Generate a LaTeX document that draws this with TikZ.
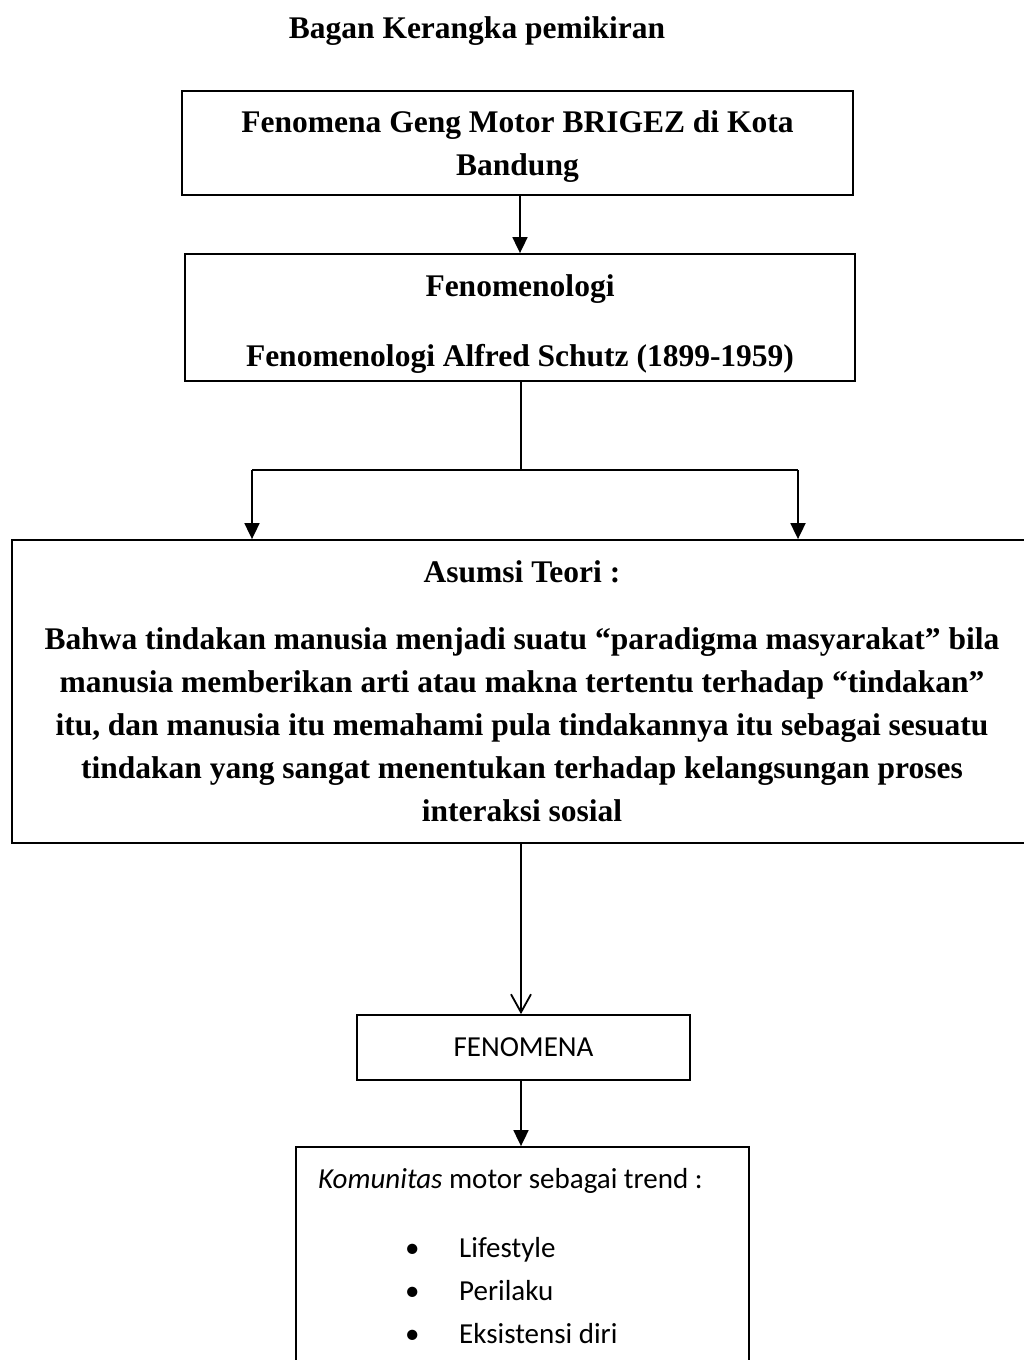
\documentclass[tikz,border=0pt]{standalone}
\usepackage{fontspec}
\setmainfont{Liberation Serif}
\newfontfamily\calibrifont{Carlito}
\usetikzlibrary{arrows.meta}
\tikzset{
  boxstyle/.style={draw=black, line width=1.8pt, inner sep=0pt, align=center},
  serifbold/.style={font=\fontsize{31.5pt}{43pt}\selectfont\bfseries, inner sep=0pt, align=center},
  sanstext/.style={font=\fontsize{29pt}{43pt}\selectfont\calibrifont},
  conn/.style={draw=black, line width=1.8pt},
  tri/.style={conn, -{Triangle[width=15pt,length=16pt]}},
  barb/.style={conn, -{Straight Barb[width=20pt,length=18pt,line width=1.8pt]}},
  plain/.style={inner sep=0pt, anchor=base west}
}
\begin{document}
\begin{tikzpicture}[x=1pt,y=-1pt]
\useasboundingbox (0,0) rectangle (1024,1360);
\clip (0,0) rectangle (1024,1360);
\fill[white] (0,0) rectangle (1024,1360);

\node[serifbold] (title) at (477,31) {Bagan Kerangka pemikiran};

\node[boxstyle, minimum width=671pt, minimum height=104pt] (b1) at (517.5,143) {};
\node[serifbold] (b1t) at ([yshift=-4pt]b1.center)
  {Fenomena Geng Motor BRIGEZ di Kota\\Bandung};

\node[boxstyle, minimum width=670pt, minimum height=127pt] (b2) at (520,317.5) {};
\node[serifbold] (b2t) at ([yshift=-7pt]b2.center)
  {Fenomenologi\\[27pt]Fenomenologi Alfred Schutz (1899-1959)};

\node[boxstyle, minimum width=1020pt, minimum height=303pt] (b3) at (522,691.5) {};
\node[serifbold] (b3t) at (b3.center)
  {Asumsi Teori :\\[24pt]
   Bahwa tindakan manusia menjadi suatu “paradigma masyarakat” bila\\
   manusia memberikan arti atau makna tertentu terhadap “tindakan”\\
   itu, dan manusia itu memahami pula tindakannya itu sebagai sesuatu\\
   tindakan yang sangat menentukan terhadap kelangsungan proses\\
   interaksi sosial};

\node[boxstyle, sanstext, minimum width=333pt, minimum height=65pt] (b4) at (523.5,1047.5) {FENOMENA};

\node[boxstyle, minimum width=453pt, minimum height=260pt] (b5) at (522.5,1277) {};

\node[sanstext, plain] (k) at (318,1188) {\textit{Komunitas} motor sebagai trend :};
\node[sanstext, plain] (u1) at (405,1257) {•};
\node[sanstext, plain] (t1) at (459,1257) {Lifestyle};
\node[sanstext, plain] (u2) at (405,1300) {•};
\node[sanstext, plain] (t2) at (459,1300) {Perilaku};
\node[sanstext, plain] (u3) at (405,1343) {•};
\node[sanstext, plain] (t3) at (459,1343) {Eksistensi diri};

% connectors
\draw[tri] (b1.south -| 520,0) -- (b2.north -| 520,0);
\coordinate (mid) at (521,470);
\coordinate (jL) at (252,470);
\coordinate (jR) at (798,470);
\draw[conn] (b2.south -| mid) -- (mid);
\draw[conn] (jL) -- (jR);
\draw[tri] (jL) -- (jL |- b3.north);
\draw[tri] (jR) -- (jR |- b3.north);
\draw[barb] (b3.south -| 521,0) -- (b4.north -| 521,0);
\draw[tri] (b4.south -| 521,0) -- (b5.north -| 521,0);
\end{tikzpicture}
\end{document}
